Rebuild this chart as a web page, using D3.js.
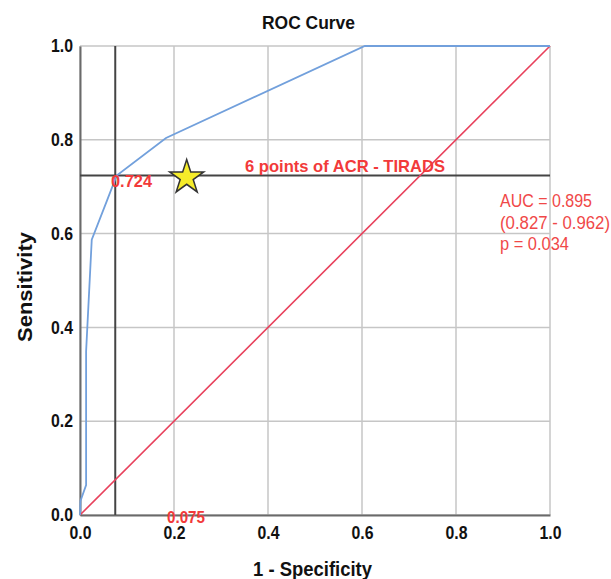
<!DOCTYPE html>
<html><head><meta charset="utf-8">
<script src="https://cdn.jsdelivr.net/npm/d3@7/dist/d3.min.js"></script>
<style>
html,body{margin:0;padding:0;background:#fff;}
text{font-family:"Liberation Sans Narrow","Liberation Sans",Arial,sans-serif;}
</style></head>
<body>
<svg id="chart" width="611" height="579"></svg>
<script>
// ROC curve points (1 - specificity, sensitivity)
const rocFpr  = [0, 0.001, 0.013, 0.013, 0.025, 0.058, 0.078, 0.183, 0.606, 1.0];
const rocSens = [0, 0.03, 0.064, 0.349, 0.587, 0.672, 0.724, 0.804, 1.0, 1.0];
const refLine = [0, 1];
const cutFpr = 0.075;
const cutSens = 0.724;
const starPoint = [0.227, 0.724];
const tickValues = [0, 0.2, 0.4, 0.6, 0.8, 1.0];
const title = "ROC Curve";
const xLabel = "1 - Specificity";
const yLabel = "Sensitivity";
const cutLabel = "6 points of ACR - TIRADS";
const aucLines = ["AUC = 0.895", "(0.827 - 0.962)", "p = 0.034"];
const aucWidths = [92, 110, 69];

const svg = d3.select("#chart");
const x = d3.scaleLinear().domain([0,1]).range([80,550]);
const y = d3.scaleLinear().domain([0,1]).range([515,46]);

// gridlines
const grid = svg.append("g");
grid.selectAll("line.v").data(tickValues).join("line")
  .attr("x1", d=>x(d)).attr("x2", d=>x(d)).attr("y1", y(0)).attr("y2", y(1))
  .attr("stroke", "#c6c6c6").attr("stroke-width", 1.5);
grid.selectAll("line.h").data(tickValues).join("line")
  .attr("y1", d=>y(d)).attr("y2", d=>y(d)).attr("x1", x(0)).attr("x2", x(1))
  .attr("stroke", "#c6c6c6").attr("stroke-width", 1.5);

// axes
const xAxis = d3.axisBottom(x).tickValues(tickValues).tickFormat(d3.format(".1f")).tickSize(0).tickPadding(11);
const yAxis = d3.axisLeft(y).tickValues(tickValues).tickFormat(d3.format(".1f")).tickSize(0).tickPadding(7);
const gx = svg.append("g").attr("transform", `translate(0,${y(0)})`).call(xAxis);
const gy = svg.append("g").attr("transform", `translate(${x(0)},0)`).call(yAxis);
[gx, gy].forEach(g => {
  g.select(".domain").attr("stroke", "#6a6a6a").attr("stroke-width", 2);
  g.selectAll("text").attr("font-size", 18).attr("font-weight", "bold").attr("fill", "#111")
    .attr("textLength", 22).attr("lengthAdjust", "spacingAndGlyphs");
});

// reference cut-off lines
svg.append("line").attr("x1", x(cutFpr)).attr("x2", x(cutFpr)).attr("y1", y(0)).attr("y2", y(1))
  .attr("stroke", "#444").attr("stroke-width", 2);
svg.append("line").attr("x1", x(0)).attr("x2", x(1)).attr("y1", y(cutSens)).attr("y2", y(cutSens))
  .attr("stroke", "#444").attr("stroke-width", 2);

// diagonal reference
svg.append("line").attr("x1", x(refLine[0])).attr("y1", y(refLine[0]))
  .attr("x2", x(refLine[1])).attr("y2", y(refLine[1]))
  .attr("stroke", "#e8415c").attr("stroke-width", 1.6);

// ROC curve
const rocData = rocFpr.map((f,i)=>[f, rocSens[i]]);
svg.append("path").datum(rocData)
  .attr("d", d3.line().x(d=>x(d[0])).y(d=>y(d[1])))
  .attr("fill", "none").attr("stroke", "#72a0dc").attr("stroke-width", 1.8);

// star
svg.append("path")
  .attr("d", d3.symbol().type(d3.symbolStar).size(360)())
  .attr("transform", `translate(${x(starPoint[0])},${y(starPoint[1])+2})`)
  .attr("fill", "#f5ec2a").attr("stroke", "#333").attr("stroke-width", 1.5);

// labels
function fit(sel, w){ return sel.attr("textLength", w).attr("lengthAdjust", "spacingAndGlyphs"); }
fit(svg.append("text").attr("x", 111).attr("y", 187).text(cutSens.toFixed(3))
  .attr("fill", "#f23a3a").attr("font-weight", "bold").attr("font-size", 17), 41);
fit(svg.append("text").attr("x", 167).attr("y", 523).text(cutFpr.toFixed(3))
  .attr("fill", "#f23a3a").attr("font-weight", "bold").attr("font-size", 17), 38);
fit(svg.append("text").attr("x", 245).attr("y", 172).text(cutLabel)
  .attr("fill", "#f23a3a").attr("font-weight", "bold").attr("font-size", 17), 200);
svg.append("g").selectAll("text").data(aucLines).join("text")
  .attr("x", 500).attr("y", (d,i)=>207 + i*21.5).text(d=>d)
  .attr("fill", "#f04848").attr("font-size", 18)
  .attr("textLength", (d,i)=>aucWidths[i]).attr("lengthAdjust", "spacingAndGlyphs");

// title & axis titles
fit(svg.append("text").attr("x", 262).attr("y", 29).text(title)
  .attr("font-weight", "bold").attr("font-size", 19).attr("fill", "#111"), 93);
fit(svg.append("text").attr("x", 253).attr("y", 576).text(xLabel)
  .attr("font-weight", "bold").attr("font-size", 21).attr("fill", "#111"), 119);
fit(svg.append("text").attr("transform", "translate(32,342) rotate(-90)").text(yLabel)
  .attr("font-weight", "bold").attr("font-size", 21).attr("fill", "#111"), 110);
</script>
</body></html>
